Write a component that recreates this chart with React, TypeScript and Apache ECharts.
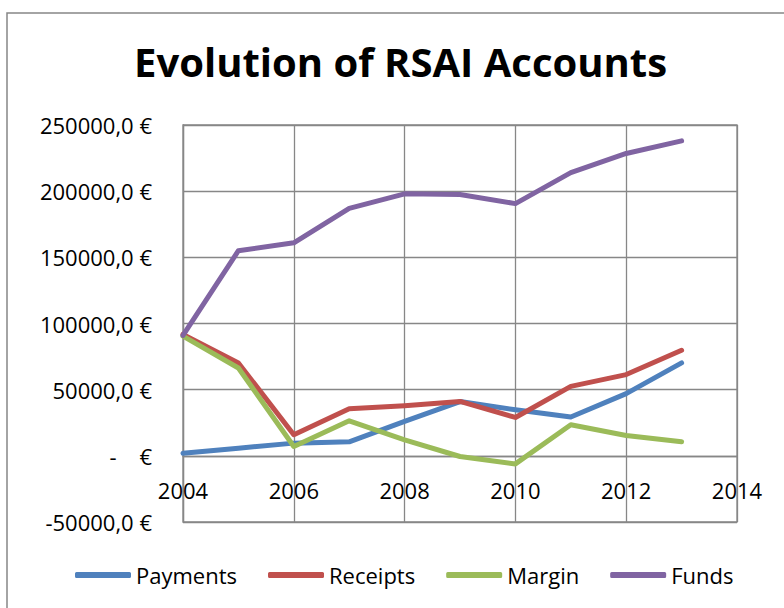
import React, { useEffect, useRef } from "react";
import * as echarts from "echarts";

const years = [2004, 2005, 2006, 2007, 2008, 2009, 2010, 2011, 2012, 2013];
const payments = [2000, 5800, 9600, 10600, 26000, 41000, 34800, 29300, 47000, 70200];
const receipts = [91700, 70200, 15900, 35600, 37900, 41100, 29000, 52500, 61400, 79800];
const margin = [90400, 66400, 7100, 26500, 12100, -500, -6100, 23500, 15400, 10600];
const funds = [91000, 155000, 161000, 187000, 198000, 197500, 190600, 214000, 228500, 238000];
const seriesNames = ["Payments", "Receipts", "Margin", "Funds"];
const colors = ["#4F81BD", "#C0504D", "#9BBB59", "#8064A2"];

const FONT = "'Open Sans', 'Noto Sans', sans-serif";

export default function App() {
  const ref = useRef<HTMLDivElement>(null);
  useEffect(() => {
    if (!ref.current) return;
    const chart = echarts.init(ref.current, undefined, { renderer: "svg" });
    const values = [payments, receipts, margin, funds];
    chart.setOption({
      animation: false,
      backgroundColor: "#ffffff",
      title: {
        text: "Evolution of RSAI Accounts",
        left: 129,
        top: 36,
        textStyle: { fontFamily: FONT, fontSize: 40, fontWeight: "bold", color: "#000" },
      },
      graphic: [
        {
          type: "rect",
          shape: { x: 7, y: 13, width: 800, height: 700 },
          style: { fill: "none", stroke: "#868686", lineWidth: 1.5 },
          silent: true,
        },
      ],
      legend: {
        data: seriesNames,
        left: 70,
        top: 559,
        itemWidth: 56,
        itemHeight: 6,
        itemGap: 31,
        icon: "roundRect",
        textStyle: { fontFamily: FONT, fontSize: 22, color: "#000" },
      },
      grid: { left: 183, top: 125, right: 47, bottom: 86, show: true, borderColor: "#878787", borderWidth: 1.3 },
      xAxis: {
        type: "value",
        min: 2004,
        max: 2014,
        interval: 2,
        position: "bottom",
        offset: -66,
        axisLine: { show: true, onZero: false, lineStyle: { color: "#878787", width: 1.3 } },
        axisTick: { show: false },
        splitLine: { show: true, lineStyle: { color: "#878787", width: 1.3 } },
        axisLabel: { fontFamily: FONT, fontSize: 22, color: "#000", margin: 23, formatter: (v: number) => String(v) },
      },
      yAxis: {
        type: "value",
        min: -50000,
        max: 250000,
        interval: 50000,
        axisLine: { show: true, lineStyle: { color: "#878787", width: 1.3 } },
        axisTick: { show: false },
        splitLine: { show: true, lineStyle: { color: "#878787", width: 1.3 } },
        axisLabel: {
          fontFamily: FONT,
          fontSize: 22,
          color: "#000",
          margin: 31,
          formatter: (v: number) => (v === 0 ? "-\u00a0\u00a0\u00a0\u00a0€" : v.toFixed(1).replace(".", ",") + " €"),
        },
      },
      series: values.map((arr, i) => ({
        name: seriesNames[i],
        type: "line",
        data: years.map((y, j) => [y, arr[j]]),
        symbol: "none",
        itemStyle: { color: colors[i] },
        lineStyle: { color: colors[i], width: 5, cap: "round", join: "round" },
      })),
    });
    return () => chart.dispose();
  }, []);
  return <div ref={ref} style={{ position: "absolute", left: 0, top: 0, width: 784, height: 608 }} />;
}
